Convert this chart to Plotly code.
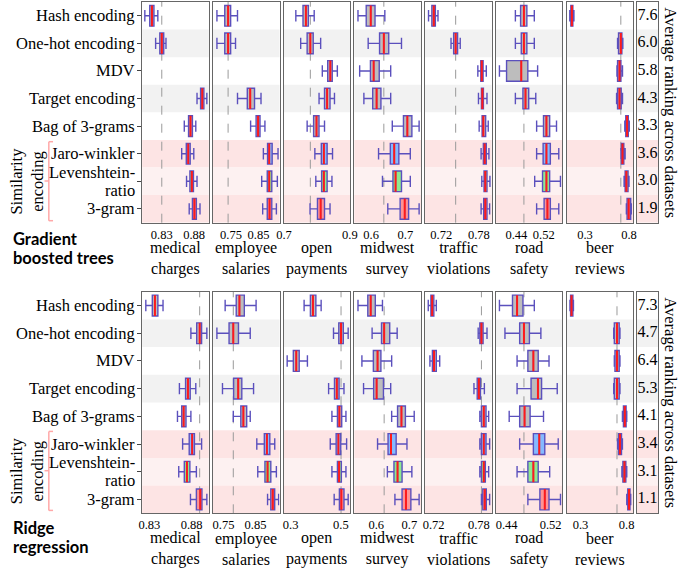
import plotly.graph_objects as go

# ---------------- data ----------------
methods = ["Hash encoding", "One-hot encoding", "MDV", "Target encoding",
           "Bag of 3-grams", "Jaro-winkler", "Levenshtein-<br>ratio", "3-gram"]
datasets = ["medical<br>charges", "employee<br>salaries", "open<br>payments",
            "midwest<br>survey", "traffic<br>violations", "road<br>safety", "beer<br>reviews"]

gbt_rank = ["7.6", "6.0", "5.8", "4.3", "3.3", "3.6", "3.0", "1.9"]
ridge_rank = ["7.3", "4.7", "6.4", "5.3", "4.1", "3.4", "3.1", "1.1"]

gbt_ticks = [[0.83, 0.88], [0.75, 0.85], [0.7, 0.9], [0.6, 0.7], [0.72, 0.78], [0.44, 0.52], [0.3, 0.8]]
ridge_ticks = [[0.83, 0.88], [0.75, 0.85], [0.3, 0.5], [0.6, 0.7], [0.72, 0.78], [0.44, 0.52], [0.3, 0.8]]

# each row: (lower whisker, q1, median, q3, upper whisker); order follows `methods`
gbt_medical = [(0.8038, 0.8114, 0.8148, 0.8179, 0.8239), (0.8205, 0.827, 0.830, 0.833, 0.8365), None,
               (0.8845, 0.890, 0.8926, 0.8951, 0.8997), (0.8648, 0.8714, 0.8744, 0.8774, 0.8826),
               (0.8608, 0.8679, 0.8709, 0.8739, 0.8795), (0.8683, 0.8735, 0.8765, 0.879, 0.8845),
               (0.8724, 0.8774, 0.8805, 0.8835, 0.8891)]
gbt_employee = [(0.6986, 0.7271, 0.7393, 0.7486, 0.7736), (0.6986, 0.7271, 0.7393, 0.7486, 0.7664), None,
                (0.7736, 0.8093, 0.820, 0.8357, 0.8593), (0.8214, 0.8414, 0.8486, 0.8557, 0.8736),
                (0.8679, 0.8832, 0.8893, 0.900, 0.9214), (0.8618, 0.8821, 0.8893, 0.8986, 0.9189),
                (0.8654, 0.8821, 0.8904, 0.8986, 0.9154)]
gbt_open = [(0.736, 0.7577, 0.7665, 0.7741, 0.7917), (0.7507, 0.7703, 0.780, 0.7887, 0.8113),
            (0.8163, 0.8327, 0.8406, 0.8464, 0.8619), (0.8064, 0.823, 0.8309, 0.8397, 0.8532),
            (0.7703, 0.7899, 0.7987, 0.8063, 0.823), (0.7937, 0.8133, 0.821, 0.8309, 0.8473),
            (0.7966, 0.8142, 0.821, 0.8309, 0.8455), (0.7791, 0.8016, 0.8113, 0.823, 0.8397)]
gbt_midwest = [(0.5617, 0.5857, 0.5989, 0.6114, 0.640), (0.5914, 0.6246, 0.6371, 0.6514, 0.6886),
               (0.5666, 0.598, 0.6074, 0.6237, 0.6571), (0.5789, 0.6046, 0.616, 0.6286, 0.6571),
               (0.6617, 0.6943, 0.7057, 0.7189, 0.740), (0.6217, 0.656, 0.6674, 0.6809, 0.7143),
               (0.6331, 0.6637, 0.6714, 0.6886, 0.7143), (0.6486, 0.6846, 0.698, 0.7094, 0.740)]
gbt_traffic = [(0.6997, 0.705, 0.7081, 0.7106, 0.7148), (0.7356, 0.7398, 0.743, 0.7461, 0.7503),
               (0.7784, 0.7831, 0.7847, 0.7868, 0.7919), (0.7794, 0.7841, 0.7856, 0.7873, 0.793),
               (0.7805, 0.7852, 0.7872, 0.7909, 0.795), (0.7836, 0.7872, 0.7894, 0.7919, 0.7961),
               (0.7847, 0.7883, 0.7903, 0.793, 0.7977), (0.7836, 0.7878, 0.7903, 0.793, 0.7972)]
gbt_road = [(0.4371, 0.4523, 0.462, 0.4706, 0.4923), (0.4371, 0.4543, 0.462, 0.4706, 0.4923),
            (0.3906, 0.4114, 0.4543, 0.4734, 0.502), (0.4371, 0.4591, 0.4666, 0.476, 0.4966),
            (0.4991, 0.5191, 0.5277, 0.5371, 0.5571), (0.4991, 0.518, 0.5277, 0.5391, 0.5637),
            (0.4934, 0.5163, 0.5277, 0.5371, 0.5686), (0.4991, 0.5209, 0.5306, 0.5391, 0.5637)]
gbt_beer = [(0.128, 0.140, 0.152, 0.163, 0.175), (0.67, 0.681, 0.707, 0.719, 0.73),
            (0.663, 0.670, 0.692, 0.708, 0.726), (0.659, 0.670, 0.692, 0.711, 0.726),
            (0.752, 0.763, 0.778, 0.792, 0.803), (0.708, 0.714, 0.726, 0.741, 0.756),
            (0.744, 0.756, 0.770, 0.789, 0.800), (0.770, 0.778, 0.796, 0.819, 0.826)]

ridge_medical = [(0.8258, 0.8335, 0.8366, 0.8401, 0.8462), (0.8792, 0.8861, 0.8896, 0.8919, 0.8981), None,
                 (0.8656, 0.8729, 0.8757, 0.8784, 0.885), (0.8633, 0.8683, 0.8706, 0.8734, 0.8792),
                 (0.8694, 0.8772, 0.8807, 0.8834, 0.8919), (0.8648, 0.8714, 0.8745, 0.878, 0.8857),
                 (0.8787, 0.8857, 0.8903, 0.8923, 0.8981)]
ridge_employee = [(0.7552, 0.7898, 0.7998, 0.8151, 0.8518), (0.7295, 0.7674, 0.7806, 0.7968, 0.8335), None,
                  (0.7469, 0.7816, 0.7959, 0.8072, 0.8439), (0.7806, 0.8041, 0.8121, 0.8225, 0.8335),
                  (0.854, 0.8775, 0.8855, 0.8946, 0.91), (0.857, 0.8794, 0.8876, 0.8977, 0.9151),
                  (0.8876, 0.8977, 0.9038, 0.9099, 0.9222)]
ridge_open = [(0.3538, 0.3788, 0.3889, 0.4006, 0.4216), (0.4708, 0.4918, 0.5008, 0.5097, 0.5292),
              (0.2864, 0.3109, 0.3226, 0.3343, 0.367), (0.4513, 0.4747, 0.484, 0.493, 0.5125),
              (0.4645, 0.4864, 0.4942, 0.5035, 0.5203), (0.4579, 0.4813, 0.4903, 0.4996, 0.523),
              (0.4645, 0.4864, 0.493, 0.502, 0.5203), (0.4735, 0.4942, 0.502, 0.5125, 0.5292)]
ridge_midwest = [(0.5447, 0.5743, 0.5831, 0.597, 0.6186), (0.5873, 0.6157, 0.6237, 0.6405, 0.663),
                 (0.5565, 0.5911, 0.6038, 0.6139, 0.6464), (0.5615, 0.592, 0.6009, 0.6216, 0.6435),
                 (0.6464, 0.6642, 0.676, 0.6879, 0.7145), (0.6038, 0.6355, 0.6444, 0.66, 0.6926),
                 (0.6334, 0.6533, 0.6642, 0.6778, 0.7074), (0.6562, 0.6778, 0.6896, 0.7044, 0.7293)]
ridge_traffic = [(0.7129, 0.7164, 0.7181, 0.7203, 0.7236), (0.7791, 0.7813, 0.7834, 0.7856, 0.7908),
                 (0.7151, 0.7184, 0.7206, 0.7236, 0.7281), (0.7735, 0.7778, 0.780, 0.7821, 0.7873),
                 (0.7813, 0.7834, 0.7865, 0.7895, 0.793), (0.7813, 0.7834, 0.7865, 0.7895, 0.7943),
                 (0.7813, 0.7834, 0.7865, 0.7886, 0.793), (0.7834, 0.7852, 0.7878, 0.7899, 0.7943)]
ridge_road = [(0.427, 0.4507, 0.459, 0.4697, 0.4903), (0.437, 0.4637, 0.4715, 0.4814, 0.5022),
              (0.459, 0.4786, 0.4886, 0.4974, 0.517), (0.459, 0.4844, 0.4969, 0.5035, 0.5319),
              (0.4447, 0.4637, 0.4726, 0.4827, 0.507), (0.4637, 0.4886, 0.4993, 0.5093, 0.5337),
              (0.459, 0.4786, 0.4886, 0.4974, 0.5182), (0.4786, 0.5004, 0.5093, 0.517, 0.5378)]
ridge_beer = [(0.185, 0.192, 0.202, 0.217, 0.223), (0.66, 0.667, 0.696, 0.72, 0.728),
              (0.667, 0.674, 0.696, 0.72, 0.728), (0.66, 0.667, 0.696, 0.72, 0.728),
              (0.755, 0.766, 0.781, 0.795, 0.802), (0.702, 0.713, 0.728, 0.745, 0.755),
              (0.749, 0.760, 0.777, 0.792, 0.802), (0.802, 0.813, 0.827, 0.837, 0.845)]

gbt_data = [gbt_medical, gbt_employee, gbt_open, gbt_midwest, gbt_traffic, gbt_road, gbt_beer]
ridge_data = [ridge_medical, ridge_employee, ridge_open, ridge_midwest, ridge_traffic, ridge_road, ridge_beer]

# ---------------- layout config ----------------
W, H = 685, 570
SERIF = "Liberation Serif"
SANS_BOLD = "Lato"

def fx(p):
    return p / W

def fy(p):
    return 1 - p / H

col_px = [(138, 206), (210.2, 278.2), (282.4, 350.4), (354.6, 422.6),
          (426.8, 494.8), (499, 567), (571.2, 639.2)]
rank_px = (643, 665)
panel_px = [(2, 222.7), (291.7, 513.3)]
title_off = [(16.0, 35.0), (14.5, 33.5)]
gbt_ranges = [(0.7997, 0.9027), (0.6839, 0.9268), (0.699, 0.901), (0.5511, 0.7454),
              (0.6942, 0.8005), (0.38, 0.5743), (0.0911, 0.8467)]
ridge_ranges = [(0.8215, 0.9004), (0.717, 0.9249), (0.2723, 0.5374), (0.5337, 0.7349),
                (0.7087, 0.797), (0.4204, 0.5413), (0.1479, 0.8713)]

band_colors = ["white", "#f2f2f2", "white", "#f2f2f2", "white", "#fde4e4", "#fdf1f1", "#fde4e4"]
fill_colors = ["#bdbdbd"] * 5 + ["#85b9ff", "#8fe98f", "#ff9494"]
box_line = "#5b50bd"
frame_color = "#666666"
BOXW = 0.75

fig = go.Figure()
layout = dict(width=W, height=H, margin=dict(l=0, r=0, t=0, b=0),
              paper_bgcolor="white", plot_bgcolor="white", showlegend=False,
              boxmode="overlay")
shapes = []
annotations = []

panels = [(gbt_data, gbt_ranges, gbt_ticks, gbt_rank, ["Gradient", "boosted trees"]),
          (ridge_data, ridge_ranges, ridge_ticks, ridge_rank, ["Ridge", "regression"])]

for p, (pdata, pranges, pticks, prank, ptitle) in enumerate(panels):
    y0px, y1px = panel_px[p]
    ydom = [fy(y1px), fy(y0px)]
    for c in range(8):
        n = p * 8 + c + 1
        xa = "x" if n == 1 else f"x{n}"
        ya = "y" if n == 1 else f"y{n}"
        xkey = "xaxis" if n == 1 else f"xaxis{n}"
        ykey = "yaxis" if n == 1 else f"yaxis{n}"
        if c < 7:
            xdom = [fx(col_px[c][0]), fx(col_px[c][1])]
            xr = list(pranges[c])
            layout[xkey] = dict(domain=xdom, range=xr, anchor=ya, showgrid=False, zeroline=False,
                                showline=True, mirror=True, linecolor=frame_color, linewidth=1.3,
                                tickmode="array", tickvals=pticks[c],
                                ticktext=[str(v) for v in pticks[c]], ticks="",
                                tickfont=dict(family=SERIF, size=12.5, color="black"))
        else:
            xdom = [fx(rank_px[0]), fx(rank_px[1])]
            layout[xkey] = dict(domain=xdom, range=[0, 1], anchor=ya, showgrid=False, zeroline=False,
                                showline=True, mirror=True, linecolor=frame_color, linewidth=1.3,
                                showticklabels=False, ticks="")
        yax = dict(domain=ydom, range=[7.5, -0.5], anchor=xa, showgrid=False, zeroline=False,
                   showline=True, mirror=True, linecolor=frame_color, linewidth=1.3,
                   showticklabels=False)
        if c == 0:
            yax.update(tickmode="array", tickvals=list(range(8)),
                       ticks="outside", ticklen=4, tickcolor="#444", tickwidth=1)
            # row labels (method names), right-aligned next to the ticks
            for i, lab in enumerate(methods):
                lines = lab.split("<br>")
                offs = [0.0] if len(lines) == 1 else [-0.33, 0.33]
                for line, off in zip(lines, offs):
                    annotations.append(dict(text=line, xref="paper", yref=ya, x=fx(132.5),
                                            y=i + off, xanchor="right", yanchor="middle",
                                            showarrow=False,
                                            font=dict(family=SERIF, size=16.5, color="black")))
        else:
            yax.update(ticks="")
        layout[ykey] = yax

        # background bands
        for i, col in enumerate(band_colors):
            if col == "white":
                continue
            shapes.append(dict(type="rect", xref=f"{xa} domain", x0=0, x1=1, yref=ya,
                               y0=i - 0.5, y1=i + 0.5, fillcolor=col, line=dict(width=0),
                               layer="below"))
        if c == 7:
            fig.add_trace(go.Scatter(x=[0.5] * 8, y=list(range(8)), text=prank, mode="text",
                                     textfont=dict(family=SERIF, size=16, color="black"),
                                     xaxis=xa, yaxis=ya, hoverinfo="skip"))
            continue

        stats = pdata[c]
        ref = stats[1][2]  # one-hot median reference line
        shapes.append(dict(type="line", xref=xa, x0=ref, x1=ref, yref=f"{ya} domain", y0=0, y1=1,
                           line=dict(color="#9a9a9a", width=1, dash="dash"), layer="below"))
        mx, my = [], []
        for i, s in enumerate(stats):
            if s is None:
                continue
            lo, q1, med, q3, hi = s
            fig.add_trace(go.Box(orientation="h", y=[i], q1=[q1], median=[med], q3=[q3],
                                 lowerfence=[lo], upperfence=[hi], xaxis=xa, yaxis=ya,
                                 width=BOXW, whiskerwidth=0.55, fillcolor=fill_colors[i],
                                 line=dict(color=box_line, width=1.4), boxpoints=False,
                                 hoverinfo="skip"))
            mx += [med, med, None]
            my += [i - BOXW / 2, i + BOXW / 2, None]
        fig.add_trace(go.Scatter(x=mx, y=my, mode="lines", line=dict(color="#ff1a1a", width=2),
                                 xaxis=xa, yaxis=ya, hoverinfo="skip"))

        # dataset title under column
        annotations.append(dict(text=datasets[c], xref="paper", yref="paper",
                                x=fx((col_px[c][0] + col_px[c][1]) / 2), y=fy(y1px + 35.5),
                                xanchor="center", yanchor="middle", showarrow=False,
                                font=dict(family=SERIF, size=16, color="black")))

    # panel title
    annotations.append(dict(text="<b>%s</b>" % ptitle[0], xref="paper", yref="paper",
                            x=fx(4), y=fy(y1px + title_off[p][0]), xanchor="left", yanchor="middle",
                            showarrow=False, font=dict(family=SANS_BOLD, size=16.5, color="black")))
    annotations.append(dict(text="<b>%s</b>" % ptitle[1], xref="paper", yref="paper",
                            x=fx(4), y=fy(y1px + title_off[p][1]), xanchor="left", yanchor="middle",
                            showarrow=False, font=dict(family=SANS_BOLD, size=16.5, color="black")))
    # similarity encoding group label
    bt, bm, bb = y0px + 139.7, y0px + 179, y0px + 218.7
    bcol = "#ffa8a8"
    shapes.append(dict(type="line", xref="paper", yref="paper", x0=fx(42.7), x1=fx(42.7),
                       y0=fy(bt), y1=fy(bb), line=dict(color=bcol, width=1.5)))
    shapes.append(dict(type="line", xref="paper", yref="paper", x0=fx(42.7), x1=fx(47),
                       y0=fy(bt), y1=fy(bt), line=dict(color=bcol, width=1.5)))
    shapes.append(dict(type="line", xref="paper", yref="paper", x0=fx(42.7), x1=fx(47),
                       y0=fy(bb), y1=fy(bb), line=dict(color=bcol, width=1.5)))
    shapes.append(dict(type="line", xref="paper", yref="paper", x0=fx(38.3), x1=fx(42.7),
                       y0=fy(bm), y1=fy(bm), line=dict(color=bcol, width=1.5)))
    annotations.append(dict(text="Similarity<br>encoding", xref="paper", yref="paper",
                            x=fx(20), y=fy(bm), xanchor="center", yanchor="middle",
                            textangle=-90, showarrow=False,
                            font=dict(family=SERIF, size=16.5, color="black")))
    annotations.append(dict(text="Average ranking across datasets", xref="paper", yref="paper",
                            x=fx(677), y=fy((y0px + y1px) / 2), xanchor="center", yanchor="middle",
                            textangle=90, showarrow=False,
                            font=dict(family=SERIF, size=16.5, color="black")))

layout["shapes"] = shapes
layout["annotations"] = annotations
fig.update_layout(**layout)
fig.write_html("out.html", config={"displayModeBar": False},
               post_script="document.body.style.margin='0';document.body.style.padding='0';")
